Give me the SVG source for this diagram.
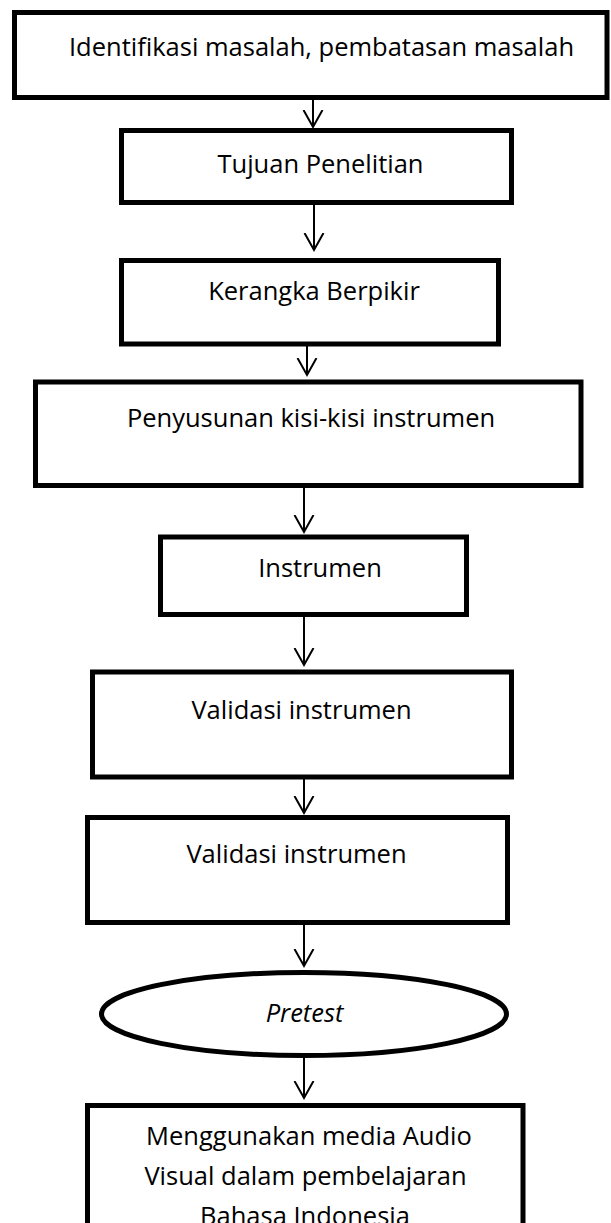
<svg xmlns="http://www.w3.org/2000/svg" width="611" height="1223" viewBox="0 0 611 1223">
<defs>
<style>
.box{fill:#fff;stroke:#000;stroke-width:5}
.t{font-family:"Open Sans","Liberation Sans",sans-serif;font-size:25.5px;fill:#000;text-anchor:middle}
.c{stroke:#000;stroke-width:2;fill:none}
</style>
<marker id="ah" markerWidth="20" markerHeight="22" refX="17" refY="10" orient="auto" markerUnits="userSpaceOnUse" viewBox="0 0 20 20">
<path d="M0,0.5 L17,10 L0,19.5" fill="none" stroke="#000" stroke-width="2"/>
</marker>
</defs>
<rect width="611" height="1223" fill="#fff"/>
<g id="connectors">
<line class="c" x1="313" y1="100" x2="313" y2="127" marker-end="url(#ah)"/>
<line class="c" x1="314" y1="205" x2="314" y2="250" marker-end="url(#ah)"/>
<line class="c" x1="307" y1="346" x2="307" y2="375" marker-end="url(#ah)"/>
<line class="c" x1="304" y1="488" x2="304" y2="532" marker-end="url(#ah)"/>
<line class="c" x1="304" y1="617" x2="304" y2="665" marker-end="url(#ah)"/>
<line class="c" x1="304" y1="779" x2="304" y2="813" marker-end="url(#ah)"/>
<line class="c" x1="304" y1="925" x2="304" y2="966" marker-end="url(#ah)"/>
<line class="c" x1="304" y1="1058" x2="304" y2="1098" marker-end="url(#ah)"/>
</g>
<g id="n1"><rect class="box" x="14.5" y="12.5" width="592.5" height="85"/><text class="t" x="321.5" y="56">Identifikasi masalah, pembatasan masalah</text></g>
<g id="n2"><rect class="box" x="121.5" y="130.5" width="390" height="72"/><text class="t" x="320.5" y="173">Tujuan Penelitian</text></g>
<g id="n3"><rect class="box" x="121.5" y="260.5" width="377" height="83.5"/><text class="t" x="314" y="300">Kerangka Berpikir</text></g>
<g id="n4"><rect class="box" x="35.5" y="382" width="545.5" height="103.5"/><text class="t" x="311" y="427">Penyusunan kisi-kisi instrumen</text></g>
<g id="n5"><rect class="box" x="160.5" y="537" width="306" height="77.5"/><text class="t" x="320" y="577">Instrumen</text></g>
<g id="n6"><rect class="box" x="92.5" y="672" width="419" height="105"/><text class="t" x="301.5" y="719">Validasi instrumen</text></g>
<g id="n7"><rect class="box" x="87.5" y="817.5" width="420" height="105"/><text class="t" x="296.5" y="863">Validasi instrumen</text></g>
<g id="n8"><ellipse class="box" cx="304" cy="1014" rx="202.5" ry="41.5"/><text class="t" x="304.5" y="1022" font-style="italic">Pretest</text></g>
<g id="n9"><rect class="box" x="87.5" y="1105.5" width="435.5" height="140"/>
<text class="t" x="309" y="1145">Menggunakan media Audio</text>
<text class="t" x="305.5" y="1185">Visual dalam pembelajaran</text>
<text class="t" x="305" y="1225">Bahasa Indonesia</text></g>
</svg>
